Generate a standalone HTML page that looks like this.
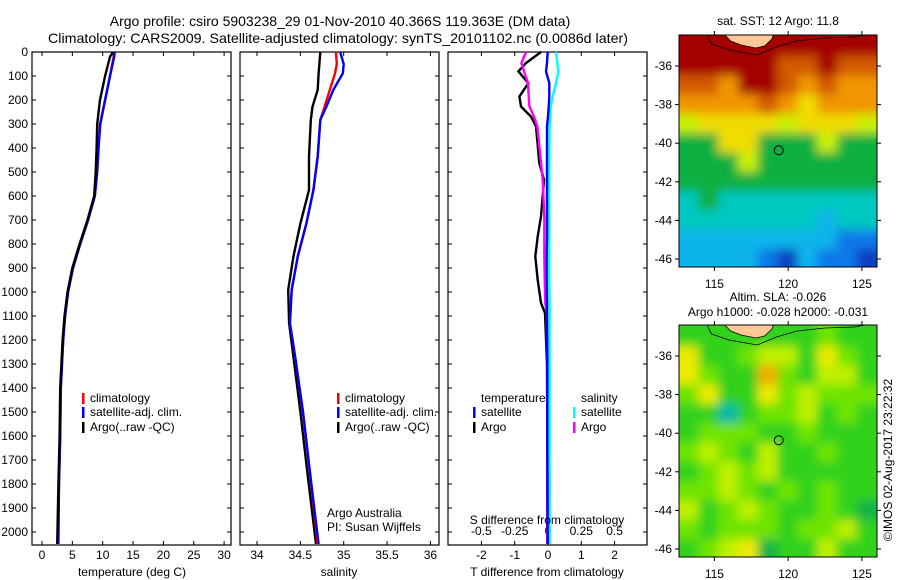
<!DOCTYPE html>
<html><head><meta charset="utf-8"><style>
html,body{margin:0;padding:0;background:#fff;}
svg{display:block;font-family:"Liberation Sans",Arial,sans-serif;}
</style></head><body>
<svg id="fig" width="900" height="580" viewBox="0 0 900 580" xmlns="http://www.w3.org/2000/svg">
<defs><filter id="blur" x="-5%" y="-5%" width="110%" height="110%"><feGaussianBlur stdDeviation="5"/></filter></defs>
<text x="340" y="26" font-size="14" text-anchor="middle">Argo profile: csiro 5903238_29 01-Nov-2010 40.366S 119.363E (DM data)</text>
<text x="338" y="43" font-size="14" text-anchor="middle" textLength="580" lengthAdjust="spacingAndGlyphs">Climatology: CARS2009. Satellite-adjusted climatology: synTS_20101102.nc (0.0086d later)</text>
<g id="g"></g>
</svg>
<script>
const tDepths=[0,20,100,200,300,400,500,600,700,800,900,1000,1100,1200,1400,1600,1800,2050];
const tArgo=[11.7,11.2,10.4,9.55,9.1,9.0,8.85,8.6,7.5,6.2,5.0,4.2,3.7,3.4,3.0,2.9,2.7,2.5];
const tClim=[11.9,11.8,11.2,10.4,9.55,9.3,9.1,8.7,7.6,6.3,5.1,4.3,3.8,3.5,3.1,3.0,2.8,2.6];
const tSat=[12.0,11.9,11.2,10.4,9.6,9.3,9.1,8.7,7.6,6.3,5.1,4.3,3.8,3.5,3.1,3.0,2.8,2.7];
const sDepths=[0,50,89,158,228,283,436,575,714,853,991,1130,1269,1500,1750,2050];
const sArgo=[34.73,34.72,34.71,34.70,34.64,34.62,34.60,34.60,34.50,34.42,34.36,34.37,34.42,34.50,34.58,34.68];
const sClim=[34.91,34.92,34.90,34.84,34.78,34.73,34.70,34.65,34.57,34.47,34.40,34.38,34.44,34.53,34.61,34.70];
const sSat=[34.96,35.00,34.99,34.88,34.80,34.73,34.70,34.65,34.57,34.47,34.40,34.38,34.44,34.53,34.61,34.71];
const dDepths=[0,46,81,130,185,227,269,310,463,533,685,769,852,949,1046,1088,1300,1600,2050];
const dTArgo=[-0.21,-0.66,-0.89,-0.59,-0.86,-0.81,-0.51,-0.36,-0.26,-0.12,-0.21,-0.31,-0.38,-0.31,-0.21,-0.09,-0.03,-0.02,-0.02];
const dSArgo=[-0.165,-0.2,-0.18,-0.15,-0.145,-0.14,-0.105,-0.08,-0.052,-0.04,-0.028,-0.028,-0.028,-0.025,-0.02,-0.01,-0.005,-0.005,-0.005];
const dTSat=[-0.01,-0.03,-0.06,0.04,0.04,0.02,0.0,-0.03,-0.03,-0.03,-0.03,-0.03,-0.04,-0.04,-0.03,-0.03,-0.02,-0.02,-0.01];
const dSSat=[0.06,0.07,0.077,0.06,0.035,0.02,0.017,0.012,0.01,0.01,0.01,0.01,0.01,0.01,0.012,0.012,0.012,0.012,0.012];
const depthTicks=[0,100,200,300,400,500,600,700,800,900,1000,1100,1200,1300,1400,1500,1600,1700,1800,1900,2000];
const tTicks=[0,5,10,15,20,25,30];
const sTicks=[34,34.5,35,35.5,36];
const dTTicks=[-2,-1,0,1,2];
const dSTickLabels=["-0.5","-0.25","0","0.25","0.5"];
const dSTicks=[-0.5,-0.25,0,0.25,0.5];
const sstGrid=[
[9,9,9,9,9,9,9,9,9,9],
[9,9,9,9,9,8,8,9,8,8],
[8,8,7,9,9,8,7,8,7,7],
[7,7,7,7,8,7,6,7,7,7],
[5,6,6,6,6,5,6,6,6,5],
[4,4,6,6,4,4,4,5,4,4],
[4,4,4,5,4,4,4,4,4,4],
[4,4,4,4,4,4,4,4,4,4],
[3,4,3,3,3,3,3,3,3,3],
[3,3,3,3,3,3,3,2,3,3],
[2,2,2,2,2,2,2,2,1,1],
[2,2,2,2,1,0,2,1,1,0]];
const slaGrid=[
[2,2,2,2,2,2,2,3,2,2],
[5,2,2,3,4,4,2,5,3,2],
[5,3,2,2,6,3,2,4,4,2],
[3,5,2,2,5,3,4,3,3,3],
[2,2,0,2,3,3,4,2,3,2],
[2,3,3,3,2,2,3,2,2,2],
[3,4,3,2,4,2,2,3,2,2],
[2,3,4,3,4,2,2,2,2,2],
[3,3,4,3,2,3,2,3,2,2],
[4,2,3,4,3,2,2,3,2,1],
[3,2,3,3,3,2,3,3,4,2],
[2,3,4,5,1,2,2,4,2,2]];
const lonTicks=[115,120,125];
const latTicks=[-36,-38,-40,-42,-44,-46];
const argoLon=119.363, argoLat=-40.366;

const NS="http://www.w3.org/2000/svg";
const G=document.getElementById('g');
function mk(tag,attrs,parent){const e=document.createElementNS(NS,tag);for(const k in attrs)e.setAttribute(k,attrs[k]);(parent||G).appendChild(e);return e;}
function txt(x,y,s,size,anchor,parent){const e=mk('text',{x:x,y:y,'font-size':size,'text-anchor':anchor||'middle'},parent);e.textContent=s;return e;}

const pTop=52,pBot=545;
const yD=d=>pTop+d*0.24;
function panel(x0,w,name){
  const r=mk('rect',{x:x0,y:pTop,width:w,height:pBot-pTop,fill:'none',stroke:'#000','stroke-width':1.2});
  
  
  depthTicks.forEach(d=>{mk('line',{x1:x0,x2:x0+4,y1:yD(d),y2:yD(d),stroke:'#000'});mk('line',{x1:x0+w-4,x2:x0+w,y1:yD(d),y2:yD(d),stroke:'#000'});});
}
function line(xs,ds,xf,color,name,sw){
  const pts=xs.map((v,i)=>xf(v).toFixed(1)+','+yD(ds[i]).toFixed(1)).join(' ');
  const p=mk('polyline',{points:pts,fill:'none',stroke:color,'stroke-width':sw||2.4,'stroke-linejoin':'miter'});
  
  
}
function xticks(ticks,labels,xf,x0,w,ly,name){
  ticks.forEach((t,i)=>{const x=xf(t);mk('line',{x1:x,x2:x,y1:pBot,y2:pBot-4,stroke:'#000'});mk('line',{x1:x,x2:x,y1:pTop,y2:pTop+4,stroke:'#000'});
    const e=txt(x,ly,labels[i],12);
    
    });
}
const xT=t=>42+6.07*t;
panel(32,199,'temperature-panel');
depthTicks.forEach(d=>{const e=txt(28,yD(d)+4,String(d),12,'end');
  
  });
xticks(tTicks,tTicks.map(String),xT,32,199,559,'temperature');
line(tClim,tDepths,xT,'#f00','temp-climatology-line');
line(tSat,tDepths,xT,'#00f','temp-satellite-line');
line(tArgo,tDepths,xT,'#000','temp-argo-line');
const xS=s=>257+86.7*(s-34);
panel(240,199,'salinity-panel');
xticks(sTicks,sTicks.map(String),xS,240,199,559,'salinity');
line(sArgo,sDepths,xS,'#000','sal-argo-line');
line(sClim,sDepths,xS,'#f00','sal-climatology-line');
line(sSat,sDepths,xS,'#00f','sal-satellite-line');
const xDT=t=>548+33.3*t;
const xDS=s=>548+133.2*s;
panel(448,199,'difference-panel');
xticks(dTTicks,dTTicks.map(String),xDT,448,199,559,'t-diff');
dSTicks.forEach((s,i)=>{const e=txt(xDS(s),535,dSTickLabels[i],12);
  
  });
line(dTArgo,dDepths,xDT,'#000','tdiff-argo-line');
line(dSArgo,dDepths,xDS,'#f0f','sdiff-argo-line');
line(dSSat,dDepths,xDS,'#0ff','sdiff-satellite-line');
line(dTSat,dDepths,xDT,'#00f','tdiff-satellite-line');

[[132,'temperature (deg C)','temperature-axis-title'],[339,'salinity','salinity-axis-title'],[547,'T difference from climatology','t-diff-axis-title']].forEach(a=>{
  const e=txt(a[0],576,a[1],12);
  
  });
{const e=txt(547,524,'S difference from climatology',12);
 
 }
function legend(x,y,color,label,name){
  const r=mk('rect',{x:x,y:y-9,width:2.5,height:11,fill:color});
  
  
  const t=txt(x+8,y,label,12,'start');
  
  
}
[[82,'temp'],[337,'sal']].forEach(p=>{
  legend(p[0],402,'#f00','climatology',p[1]+'-legend-climatology');
  legend(p[0],416,'#00f','satellite-adj. clim.',p[1]+'-legend-satellite');
  legend(p[0],431,'#000','Argo(..raw -QC)',p[1]+'-legend-argo');
});
{const t=txt(481,402,'temperature',12,'start');}
{const t=txt(581,402,'salinity',12,'start');}
legend(473,416,'#00f','satellite','diff-legend-t-satellite');
legend(473,431,'#000','Argo','diff-legend-t-argo');
legend(573,416,'#0ff','satellite','diff-legend-s-satellite');
legend(573,431,'#f0f','Argo','diff-legend-s-argo');
{const t=txt(327,517,'Argo Australia',12,'start');}
{const t=txt(327,531,'PI: Susan Wijffels',12,'start');}

const sstColors=['#0a3fc0','#1078e8','#0cb4ea','#00c8c0','#08b040','#c8f000','#f0dc00','#f09600','#d25a00','#a50000'];
const slaColors=['#00b8a8','#14b446','#32d21a','#6ee400','#bef000','#ebeb00','#f0aa00'];
const mx=lon=>679+(lon-112.6)*14.75;
function drawMap(y0,grid,colors,name){
  const my=lat=>y0+31+(-36-lat)*19.3;
  const clip=mk('clipPath',{id:name+'-clip'});
  mk('rect',{x:679,y:y0,width:198,height:232},clip);
  const outer=mk('g',{'clip-path':'url(#'+name+'-clip)'});
  
  
  const g=mk('g',{filter:'url(#blur)'},outer);
  const lon0=112.6,dlon=1.34,nr=grid.length,nc=grid[0].length;
  grid.forEach((row,i)=>row.forEach((v,j)=>{
    const lat=-34.5-i;
    let x=mx(lon0+j*dlon)-0.3,y=my(lat)-0.3,w=dlon*14.75+0.6,h=19.9;
    if(j===0){x-=20;w+=20;} if(j===nc-1){w+=20;}
    if(i===0){y-=20;h+=20;} if(i===nr-1){h+=20;}
    const c=mk('rect',{x:x,y:y,width:w,height:h,fill:colors[v]},g);
    
    
  }));
  const land=mk('path',{d:`M${mx(115.7)},${y0} L${mx(116.1)},${y0+6} L${mx(116.8)},${y0+10} L${mx(117.8)},${y0+13} L${mx(118.4)},${y0+11} L${mx(118.9)},${y0+4} L${mx(119.0)},${y0} Z`,fill:'#ffc896',stroke:'#000','stroke-width':0.8},outer);
  
  
  mk('path',{d:`M${mx(114.5)},${y0} L${mx(114.8)},${y0+9} L${mx(116)},${y0+15} L${mx(117.9)},${y0+20} L${mx(119.2)},${y0+12} L${mx(120.6)},${y0+6} L${mx(122.5)},${y0+3} L${mx(124.5)},${y0+2} L${mx(125.2)},${y0}`,fill:'none',stroke:'#000','stroke-width':0.8},outer);
  const fr=mk('rect',{x:679,y:y0,width:198,height:232,fill:'none',stroke:'#000','stroke-width':1});
  
  
  const ci=mk('circle',{cx:mx(argoLon),cy:my(argoLat),r:4.5,fill:'none',stroke:'#000','stroke-width':1});
  
  
  lonTicks.forEach(l=>{const x=mx(l);mk('line',{x1:x,x2:x,y1:y0,y2:y0-4,stroke:'#000'});mk('line',{x1:x,x2:x,y1:y0+232,y2:y0+236,stroke:'#000'});
    const t=txt(x,y0+253,String(l),12);});
  latTicks.forEach(l=>{const y=my(l);mk('line',{x1:679,x2:675,y1:y,y2:y,stroke:'#000'});mk('line',{x1:877,x2:881,y1:y,y2:y,stroke:'#000'});
    const t=txt(672,y+4,String(l),12,'end');});
}
drawMap(35,sstGrid,sstColors,'sst-map');
drawMap(325,slaGrid,slaColors,'sla-map');
{const t=txt(778,25,'sat. SST: 12 Argo: 11.8',12);}
{const t=txt(778,301,'Altim. SLA: -0.026',12);}
{const t=txt(778,316,'Argo h1000: -0.028 h2000: -0.031',12);}
{const t=txt(0,0,'©IMOS 02-Aug-2017 23:22:32',12);t.setAttribute('transform','translate(892,460) rotate(-90)');}
</script>
</body></html>
